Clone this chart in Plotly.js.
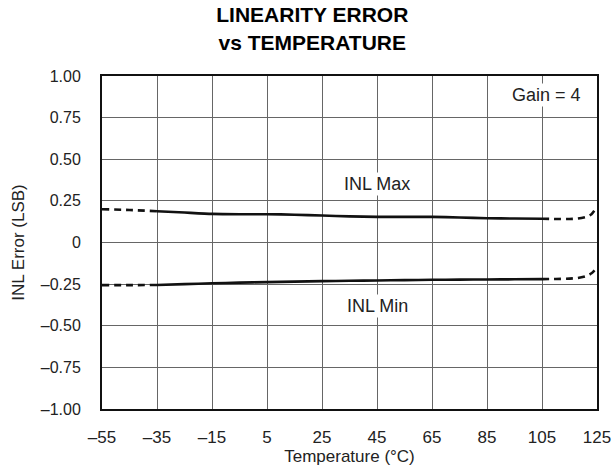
<!DOCTYPE html>
<html>
<head>
<meta charset="utf-8">
<script src="https://cdn.plot.ly/plotly-3.0.1.min.js"></script>
<style>html,body{margin:0;padding:0;background:#fff;}#chart{width:616px;height:474px;}</style>
</head>
<body>
<div id="chart"></div>
<script>
// Temperature (°C) and INL error (LSB)
const tempLeft = [-55, -45, -35];
const maxLeft = [0.200, 0.195, 0.188];
const minLeft = [-0.256, -0.256, -0.255];

const tempMid = [-35, -25, -15, -5, 5, 15, 25, 35, 45, 55, 65, 75, 85, 95, 105];
const maxMid = [0.188, 0.180, 0.172, 0.170, 0.170, 0.167, 0.162, 0.157, 0.154, 0.154, 0.154, 0.150, 0.146, 0.144, 0.143];
const minMid = [-0.255, -0.250, -0.245, -0.241, -0.238, -0.235, -0.232, -0.230, -0.228, -0.226, -0.224, -0.223, -0.222, -0.221, -0.220];

const tempRight = [105, 110, 115, 118, 121, 123, 125];
const maxRight = [0.143, 0.141, 0.141, 0.144, 0.154, 0.170, 0.215];
const minRight = [-0.220, -0.219, -0.217, -0.213, -0.202, -0.185, -0.150];

const xTicks = [-55, -35, -15, 5, 25, 45, 65, 85, 105, 125];
const xTickText = ['\u201355', '\u201335', '\u201315', '5', '25', '45', '65', '85', '105', '125'];
const yTicks = [1, 0.75, 0.5, 0.25, 0, -0.25, -0.5, -0.75, -1];
const yTickText = ['1.00', '0.75', '0.50', '0.25', '0', '\u20130.25', '\u20130.50', '\u20130.75', '\u20131.00'];

const FONT = 'Liberation Sans, Arial, Helvetica, sans-serif';
const lineW = 2.6;
function tr(x, y, dash) {
  return {x: x, y: y, mode: 'lines', type: 'scatter', line: {color: '#111', width: lineW, dash: dash, shape: 'spline', smoothing: 0.6}, hoverinfo: 'skip', showlegend: false};
}
const data = [
  tr(tempLeft, maxLeft, '7px,5px'), tr(tempMid, maxMid, 'solid'), tr(tempRight, maxRight, '7px,5px'),
  tr(tempLeft, minLeft, '7px,5px'), tr(tempMid, minMid, 'solid'), tr(tempRight, minRight, '7px,5px')
];

const layout = {
  width: 616, height: 474,
  margin: {l: 102, r: 19, t: 76, b: 65},
  paper_bgcolor: '#fff', plot_bgcolor: '#fff',
  font: {family: FONT, size: 16, color: '#222'},
  title: {text: 'LINEARITY ERROR<br>vs TEMPERATURE', xref: 'container', x: 0.507, xanchor: 'center', yref: 'container', y: 0.953, yanchor: 'top', font: {family: FONT, size: 21, weight: 'bold', color: '#000'}},
  xaxis: {range: [-55, 125], tickvals: xTicks, ticktext: xTickText, showgrid: true, gridcolor: '#666', gridwidth: 1, zeroline: false,
          showline: true, linecolor: '#111', linewidth: 2, mirror: true, ticks: '', ticklabelstandoff: 12,
          tickfont: {size: 17},
          title: {text: 'Temperature (\u00B0C)', standoff: 4, font: {size: 17}}},
  yaxis: {range: [-1, 1], tickvals: yTicks, ticktext: yTickText, showgrid: true, gridcolor: '#666', gridwidth: 1, zeroline: false,
          showline: true, linecolor: '#111', linewidth: 2, mirror: true, ticks: '', ticklabelstandoff: 16,
          tickfont: {size: 16},
          title: {text: 'INL Error (LSB)', standoff: 12, font: {size: 17}}},
  annotations: [
    {x: 45, y: 0.352, xref: 'x', yref: 'y', text: 'INL Max', showarrow: false, bgcolor: '#fff', font: {size: 18, color: '#222'}},
    {x: 45, y: -0.381, xref: 'x', yref: 'y', text: 'INL Min', showarrow: false, bgcolor: '#fff', font: {size: 18, color: '#222'}},
    {x: 106.8, y: 0.886, xref: 'x', yref: 'y', text: 'Gain = 4', showarrow: false, bgcolor: '#fff', font: {size: 18, color: '#222'}}
  ]
};
Plotly.newPlot('chart', data, layout, {staticPlot: true, displayModeBar: false});
</script>
</body>
</html>
